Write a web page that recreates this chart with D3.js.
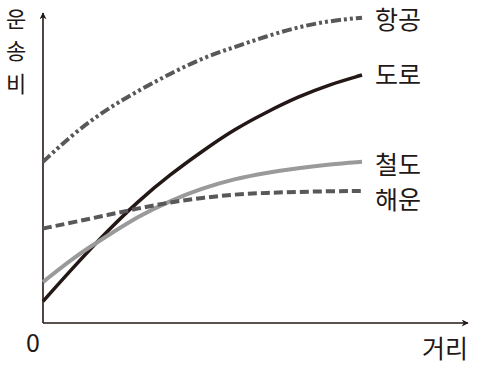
<!DOCTYPE html>
<html>
<head>
<meta charset="utf-8">
<script src="https://cdn.jsdelivr.net/npm/d3@7"></script>
<style>
  html, body { margin: 0; padding: 0; background: #fff; }
  svg text { font-family: "Noto Sans CJK KR", "Noto Sans", sans-serif; fill: #231815; }
</style>
</head>
<body>
<svg id="chart" width="477" height="368"></svg>
<script>
// distance steps (x) and transport cost per mode (y)
const distance = [0, 1, 2, 3, 4, 5, 6, 7, 8, 9, 10]
const air = [52, 61.5, 69, 75, 80.5, 85.5, 89, 92.5, 95.5, 97.5, 98.5]
const road = [7, 18.5, 29.5, 39.5, 48, 55.5, 62.5, 68, 73, 77, 80]
const rail = [13.2, 21.5, 28, 34.5, 39.5, 43.5, 46.5, 48.5, 50, 51.2, 52]
const sea = [30.5, 32.6, 34.8, 37, 39, 40.4, 41.5, 42, 42.3, 42.5, 42.6]
const modes = ['항공', '도로', '철도', '해운']

const series = [
  { name: modes[0], values: air, color: '#58585a', width: 4, dash: '10,3,3,3,3,3', dy: 0 },
  { name: modes[1], values: road, color: '#231815', width: 3.5, dash: null, dy: -2 },
  { name: modes[2], values: rail, color: '#9a9a9a', width: 4, dash: null, dy: 1 },
  { name: modes[3], values: sea, color: '#58585a', width: 4, dash: '9,4', dy: 7 }
]

const svg = d3.select('#chart')
const x = d3.scaleLinear().domain([0, 10]).range([43, 362])
const y = d3.scaleLinear().domain([0, 100]).range([323, 13])

const axisColor = '#231815'

// axes with arrows
svg.append('defs').append('marker')
  .attr('id', 'arrow')
  .attr('viewBox', '0 0 10 10')
  .attr('refX', 9).attr('refY', 5)
  .attr('markerWidth', 8).attr('markerHeight', 7)
  .attr('markerUnits', 'userSpaceOnUse')
  .attr('orient', 'auto')
  .append('path')
  .attr('d', 'M0,0 L10,5 L0,10 L3,5 Z')
  .attr('fill', axisColor)

svg.append('line')
  .attr('x1', x(0)).attr('y1', y(0))
  .attr('x2', 468).attr('y2', y(0))
  .attr('stroke', axisColor).attr('stroke-width', 1.6)
  .attr('marker-end', 'url(#arrow)')

svg.append('line')
  .attr('x1', x(0)).attr('y1', y(0))
  .attr('x2', x(0)).attr('y2', y(100))
  .attr('stroke', axisColor).attr('stroke-width', 1.6)
  .attr('marker-end', 'url(#arrow)')

const line = d3.line()
  .x((d, i) => x(distance[i]))
  .y(d => y(d))
  .curve(d3.curveBasis)

svg.append('g')
  .selectAll('path')
  .data(series)
  .enter()
  .append('path')
  .attr('d', d => line(d.values))
  .attr('fill', 'none')
  .attr('stroke', d => d.color)
  .attr('stroke-width', d => d.width)
  .attr('stroke-dasharray', d => d.dash)

svg.append('g')
  .selectAll('text')
  .data(series)
  .enter()
  .append('text')
  .attr('x', x(10) + 13)
  .attr('y', d => y(d.values[d.values.length - 1]) + d.dy)
  .attr('dominant-baseline', 'central')
  .attr('font-size', 25)
  .text(d => d.name)

// axis labels: y label stacked one character per line
svg.append('g')
  .selectAll('text')
  .data('운송비'.split(''))
  .enter()
  .append('text')
  .attr('x', 16)
  .attr('y', (d, i) => 27 + i * 32.3)
  .attr('text-anchor', 'middle')
  .attr('font-size', 22)
  .text(d => d)

svg.append('text')
  .attr('x', x(0) - 10)
  .attr('y', 341)
  .attr('text-anchor', 'middle')
  .attr('dominant-baseline', 'central')
  .attr('font-size', 25)
  .text('0')

svg.append('text')
  .attr('x', 468)
  .attr('y', 347)
  .attr('text-anchor', 'end')
  .attr('dominant-baseline', 'central')
  .attr('font-size', 25)
  .text('거리')
</script>
</body>
</html>
